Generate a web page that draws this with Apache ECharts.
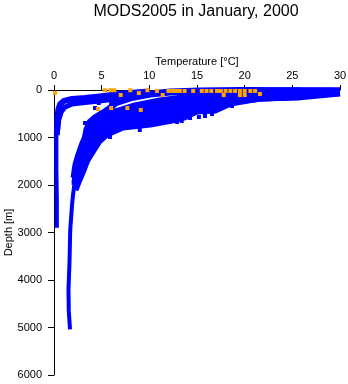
<!DOCTYPE html>
<html>
<head>
<meta charset="utf-8">
<script src="https://cdn.jsdelivr.net/npm/echarts@6/dist/echarts.min.js"></script>
<style>
  html, body { margin: 0; padding: 0; background: #fff; }
  #main { width: 348px; height: 384px; }
</style>
</head>
<body>
<div id="main"></div>
<script>
// temperature [degC], depth [m] pairs
var tempTicks = [0, 5, 10, 15, 20, 25, 30];
var depthTicks = [0, 1000, 2000, 3000, 4000, 5000, 6000];

// cold (polar) profiles: arch at the top and thin strand down to ~2900 m
var polarArch = [[10.0,30],[8.0,65],[6.4,95],[4.8,135],[3.25,170],[1.9,190],[1.05,230],[0.65,295],[0.45,420],[0.35,630],[0.3,950]];
var polarArch2 = [[8.0,150],[6.4,190],[4.8,230],[3.25,265],[1.9,295],[1.15,360],[0.75,465],[0.5,630],[0.4,840]];
var polarStrand = [[0.35,630],[0.25,950],[0.25,1680],[0.3,2320],[0.3,2900]];

// main band of profiles, warm outer edge to cold inner edge
var bandM1 = [[30,65],[25.8,145],[21.6,170],[18.5,275],[16.9,420],[15.0,440],[13.7,565],[12.5,630],[10.1,715],[7.2,780],[5.55,925],[4.7,1075],[4.1,1265],[3.45,1475],[3.05,1685],[2.6,1895],[2.2,2105]];
var bandM1b = [[29.5,40],[25.8,130],[21.6,175],[18.5,240],[16.4,340],[14.3,420],[12.2,525],[10.1,610],[8.0,690],[6.4,760],[5.35,860],[4.6,990],[4.0,1160],[3.4,1370],[2.95,1580],[2.5,1810],[2.25,1950]];
var bandM2 = [[28.9,20],[24.8,105],[20.6,145],[17.4,210],[14.8,315],[12.2,420],[9.55,545],[7.45,630],[5.9,735],[4.8,865],[4.0,1050],[3.35,1260],[2.9,1475],[2.5,1725],[2.2,1950]];
var bandM27 = [[26.9,65],[22.7,125],[19.0,190],[15.8,295],[12.7,400],[10.1,485],[7.45,590],[5.65,715],[4.6,885],[3.8,1095],[3.15,1325],[2.7,1550],[2.35,1800]];
var bandM25 = [[25.8,40],[21.6,85],[17.4,150],[14.3,230],[11.1,335],[8.5,440],[6.4,570],[5.15,695],[4.3,840],[3.55,1050],[3.05,1265],[2.6,1515],[2.3,1750]];
var bandM3 = [[25.8,20],[21.6,40],[17.4,85],[14.3,145],[11.1,230],[8.5,335],[6.4,465],[5.15,590],[4.3,735],[3.55,905],[3.05,1115],[2.6,1370],[2.3,1580],[2.1,1850]];
var bandM4 = [[30,15],[19.5,12],[15.3,20],[12.2,40],[10.1,85],[8.0,165],[6.4,275],[5.9,380],[5.15,485],[4.3,590],[3.8,675],[3.45,840],[3.25,1050],[2.85,1265],[2.5,1475],[2.3,1725],[2.2,2000]];
var deepStrand = [[2.2,1900],[2.0,2200],[1.9,2400],[1.7,2950],[1.63,3600],[1.52,4200],[1.55,4650],[1.68,5040]];

// loose blue points
var bluePoints = [[3.25,695],[5.87,990],[4.3,380],[6.0,253],[4.7,274],[10.9,695],[11.96,674],[12.9,674],[13.4,653],[14.27,589],[15.2,568],[15.84,547],[16.57,505],[18.67,337],[9.0,842]];

// orange points near the surface
var orangePoints = [[0.1,60],[5.35,5],[5.9,5],[6.3,5],[7.0,105],[8.0,5],[8.9,65],[9.8,5],[4.6,400],[6.0,380],[7.7,380],[9.1,420],
  [10.8,20],[11.4,105],[12.0,20],[12.4,20],[12.8,20],[13.2,20],[13.7,20],[14.6,20],[15.5,20],[16.0,20],[16.5,20],
  [17.1,20],[17.5,20],[18.0,20],[18.5,20],[19.0,20],[19.5,20],[20.0,20],[20.6,20],[21.1,20],[17.8,105],[19.5,105],[20.0,105],[21.6,85]];

var font = 'Liberation Sans';
var blue = '#0000ff';

function profile(data, width) {
  return {
    type: 'line', data: data, showSymbol: false, smooth: false, silent: true,
    lineStyle: { color: blue, width: width, join: 'round', cap: 'butt' },
    z: 2
  };
}

var myChart = echarts.init(document.getElementById('main'));
var option = {
  animation: false,
  title: {
    text: 'MODS2005 in January, 2000',
    left: 196, top: 4, textAlign: 'center', padding: 0,
    textStyle: { fontFamily: font, fontSize: 16, fontWeight: 'normal', color: '#000' }
  },
  grid: { left: 54, right: 8, top: 90, bottom: 9, containLabel: false, outerBoundsMode: 'none' },
  xAxis: {
    type: 'value', position: 'top', min: tempTicks[0], max: tempTicks[tempTicks.length - 1], interval: 5,
    name: 'Temperature [°C]', nameLocation: 'middle', nameGap: 23, nameMoveOverlap: false,
    nameTextStyle: { fontFamily: font, fontSize: 11, color: '#000' },
    axisLine: { show: true, lineStyle: { color: '#000', width: 1 } },
    axisTick: { show: true, length: 5, lineStyle: { color: '#000' } },
    axisLabel: { fontFamily: font, fontSize: 11, color: '#000', margin: 9 },
    splitLine: { show: false }
  },
  yAxis: {
    type: 'value', inverse: true, min: depthTicks[0], max: depthTicks[depthTicks.length - 1], interval: 1000,
    name: 'Depth [m]', nameLocation: 'middle', nameGap: 40, nameMoveOverlap: false,
    nameTextStyle: { fontFamily: font, fontSize: 11, color: '#000' },
    axisLine: { show: true, lineStyle: { color: '#000', width: 1 } },
    axisTick: { show: true, length: 6, lineStyle: { color: '#000' } },
    axisLabel: { fontFamily: font, fontSize: 11, color: '#000', margin: 12, formatter: function (v) { return String(v); } },
    splitLine: { show: false }
  },
  series: [
    profile(polarArch, 6),
    profile(polarArch2, 5),
    profile(polarStrand, 4),
    profile(bandM1, 7),
    profile(bandM1b, 7),
    profile(bandM2, 7),
    profile(bandM27, 7),
    profile(bandM25, 7),
    profile(bandM3, 7),
    profile(bandM4, 7),
    profile(deepStrand, 4),
    {
      type: 'scatter', data: bluePoints, symbol: 'rect', symbolSize: 4, silent: true,
      itemStyle: { color: blue, opacity: 1 }, z: 3
    },
    {
      type: 'scatter', data: orangePoints, symbol: 'rect', symbolSize: 4, silent: true, clip: false,
      itemStyle: { color: '#ffa500', opacity: 1 }, z: 4
    }
  ]
};
myChart.setOption(option);
</script>
</body>
</html>
